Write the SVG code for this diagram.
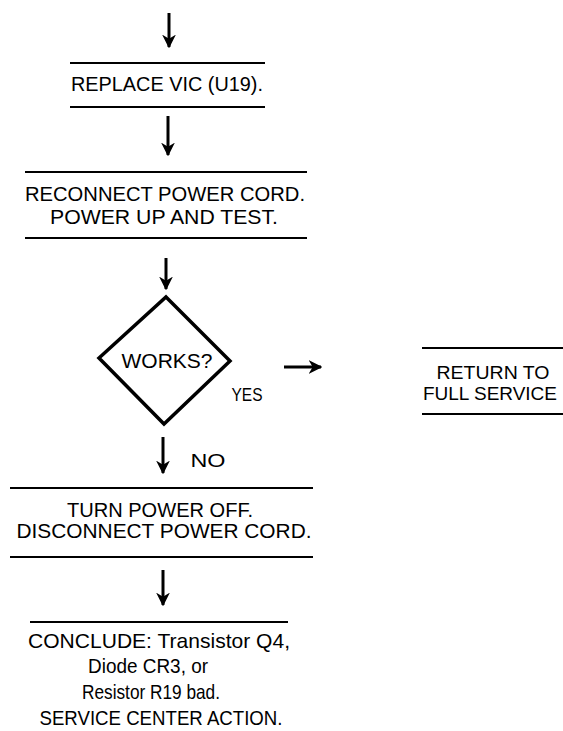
<svg xmlns="http://www.w3.org/2000/svg" width="563" height="731" viewBox="0 0 563 731">
<style>
text{font-family:"Liberation Sans","DejaVu Sans",sans-serif;font-size:21px;fill:#000;text-anchor:middle}
.sm{font-size:19px}
.rule{stroke:#000;stroke-width:2.2;fill:none}
.conn{stroke:#000;stroke-width:3;fill:none}
</style>
<defs>
<marker id="ah" viewBox="0 0 10 10" refX="9" refY="5" markerWidth="4.6" markerHeight="4.6" orient="auto" markerUnits="strokeWidth">
<path d="M0,0 L10,5 L0,10 L3,5 Z" fill="#000"/>
</marker>
</defs>
<rect width="563" height="731" fill="#fff"/>
<g id="connectors">
<line class="conn" x1="169" y1="13" x2="169" y2="47" marker-end="url(#ah)"/>
<line class="conn" x1="168" y1="116" x2="168" y2="155" marker-end="url(#ah)"/>
<line class="conn" x1="166" y1="258" x2="166" y2="289" marker-end="url(#ah)"/>
<line class="conn" x1="284" y1="367" x2="321" y2="367" marker-end="url(#ah)"/>
<line class="conn" x1="163" y1="437" x2="163" y2="473" marker-end="url(#ah)"/>
<line class="conn" x1="163" y1="570" x2="163" y2="605" marker-end="url(#ah)"/>
<text class="sm" x="247" y="401" textLength="31" lengthAdjust="spacingAndGlyphs">YES</text>
<text class="sm" x="208" y="467" textLength="35" lengthAdjust="spacingAndGlyphs">NO</text>
</g>
<g id="replace">
<line class="rule" x1="70" y1="63" x2="265" y2="63"/>
<text x="167" y="91" textLength="192" lengthAdjust="spacingAndGlyphs">REPLACE VIC (U19).</text>
<line class="rule" x1="70" y1="107" x2="265" y2="107"/>
</g>
<g id="reconnect">
<line class="rule" x1="25" y1="172" x2="307" y2="172"/>
<text x="165" y="201" textLength="280" lengthAdjust="spacingAndGlyphs">RECONNECT POWER CORD.</text>
<text x="164" y="224" textLength="228" lengthAdjust="spacingAndGlyphs">POWER UP AND TEST.</text>
<line class="rule" x1="25" y1="238" x2="307" y2="238"/>
</g>
<g id="works">
<polygon points="166,297 230,361 164,424 99,358" fill="none" stroke="#000" stroke-width="3.5" stroke-linejoin="miter"/>
<text x="167" y="368" textLength="91" lengthAdjust="spacingAndGlyphs">WORKS?</text>
</g>
<g id="return">
<line class="rule" x1="422" y1="348" x2="563" y2="348"/>
<text class="sm" x="493" y="379" textLength="113" lengthAdjust="spacingAndGlyphs">RETURN TO</text>
<text class="sm" x="490" y="400" textLength="134" lengthAdjust="spacingAndGlyphs">FULL SERVICE</text>
<line class="rule" x1="422" y1="414" x2="563" y2="414"/>
</g>
<g id="poweroff">
<line class="rule" x1="10" y1="488" x2="313" y2="488"/>
<text x="160" y="517" textLength="186" lengthAdjust="spacingAndGlyphs">TURN POWER OFF.</text>
<text x="164" y="538" textLength="295" lengthAdjust="spacingAndGlyphs">DISCONNECT POWER CORD.</text>
<line class="rule" x1="10" y1="557" x2="313" y2="557"/>
</g>
<g id="conclude">
<line class="rule" x1="30" y1="622" x2="288" y2="622"/>
<text x="159" y="648" textLength="262" lengthAdjust="spacingAndGlyphs">CONCLUDE: Transistor Q4,</text>
<text x="148" y="673" textLength="120" lengthAdjust="spacingAndGlyphs">Diode CR3, or</text>
<text x="151" y="699" textLength="138" lengthAdjust="spacingAndGlyphs">Resistor R19 bad.</text>
<text x="161" y="725" textLength="243" lengthAdjust="spacingAndGlyphs">SERVICE CENTER ACTION.</text>
</g>
</svg>
